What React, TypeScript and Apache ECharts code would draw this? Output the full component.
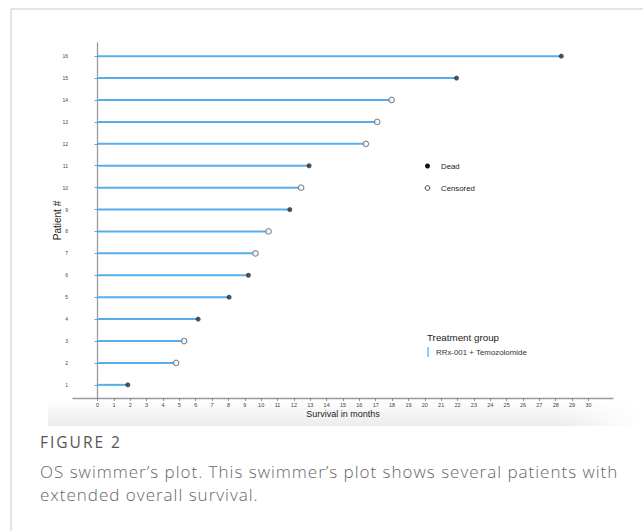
import React, { useEffect, useRef } from "react";
import * as echarts from "echarts";

const patients = [1, 2, 3, 4, 5, 6, 7, 8, 9, 10, 11, 12, 13, 14, 15, 16];
const survivalMonths = [1.85, 4.8, 5.29, 6.15, 8.04, 9.22, 9.65, 10.45, 11.75, 12.44, 12.93, 16.4, 17.09, 17.97, 21.94, 28.34];
const status = ["dead", "censored", "censored", "dead", "dead", "dead", "censored", "censored", "dead", "censored", "dead", "censored", "censored", "censored", "dead", "dead"];
const xTicks = Array.from({ length: 31 }, (_, i) => i);
const yTicks = patients;
const legendLabels = ["Dead", "Censored"];
const groupTitle = "Treatment group";
const groupName = "RRx-001 + Temozolomide";
const figureLabel = "FIGURE 2";
const captionLines = [
  "OS swimmer\u2019s plot. This swimmer\u2019s plot shows several patients with",
  "extended overall survival.",
];

const BLUE = "#55aef0";
const FONT = "'Liberation Sans', Arial, sans-serif";

export default function App() {
  const ref = useRef<HTMLDivElement>(null);
  useEffect(() => {
    if (!ref.current) return;
    const chart = echarts.init(ref.current, null, { renderer: "svg" });
    const swimData = patients.map((p, i) => [survivalMonths[i], p]);
    const deadData = patients
      .map((p, i) => (status[i] === "dead" ? [survivalMonths[i], p] : null))
      .filter((d) => d !== null);
    const censData = patients
      .map((p, i) => (status[i] === "censored" ? [survivalMonths[i], p] : null))
      .filter((d) => d !== null);

    chart.setOption({
      animation: false,
      grid: { left: 73, right: 30, top: 43, bottom: 133 },
      xAxis: {
        type: "value",
        min: -1.5,
        max: 31.5,
        name: "Survival in months",
        nameLocation: "middle",
        nameGap: 11,
        nameMoveOverlap: false,
        nameTextStyle: { fontFamily: FONT, fontSize: 9, color: "#222" },
        axisLine: { show: true, lineStyle: { color: "#9a9a9a", width: 1.3 } },
        axisTick: {
          show: true,
          customValues: xTicks,
          length: 3,
          lineStyle: { color: "#777", width: 0.8 },
        },
        axisLabel: {
          customValues: xTicks,
          fontFamily: FONT,
          fontSize: 5.5,
          color: "#444",
          margin: 4,
        },
        splitLine: { show: false },
      },
      yAxis: {
        type: "value",
        min: 0.4,
        max: 16.6,
        name: "Patient #",
        nameLocation: "middle",
        nameGap: 11,
        nameMoveOverlap: false,
        nameRotate: 90,
        nameTextStyle: { fontFamily: FONT, fontSize: 10, color: "#222" },
        axisLine: { show: true, lineStyle: { color: "#9a9a9a", width: 1.3 } },
        axisTick: {
          show: true,
          customValues: yTicks,
          length: 3,
          lineStyle: { color: "#777", width: 0.8 },
        },
        axisLabel: {
          customValues: yTicks,
          fontFamily: FONT,
          fontSize: 5,
          color: "#444",
          margin: 5,
        },
        splitLine: { show: false },
      },
      series: [
        {
          type: "custom",
          data: swimData,
          renderItem: (params: any, api: any) => {
            const x = api.value(0);
            const y = api.value(1);
            const s = api.coord([0, y]);
            const e = api.coord([x, y]);
            return {
              type: "line",
              shape: { x1: s[0], y1: s[1], x2: e[0], y2: e[1] },
              style: { stroke: BLUE, lineWidth: 2 },
            };
          },
          z: 2,
        },
        {
          type: "scatter",
          data: deadData,
          symbol: "circle",
          symbolSize: 5,
          itemStyle: { color: "#2b2b2b" },
          z: 3,
        },
        {
          type: "scatter",
          data: censData,
          symbol: "circle",
          symbolSize: 5.5,
          itemStyle: { color: "#ffffff", borderColor: "#707070", borderWidth: 1.2 },
          z: 3,
        },
      ],
      graphic: [
        // page frame
        { type: "line", shape: { x1: 11, y1: 9, x2: 643, y2: 9 }, style: { stroke: "#c9c9c9", lineWidth: 1 }, silent: true },
        { type: "line", shape: { x1: 11, y1: 9, x2: 11, y2: 531 }, style: { stroke: "#c9c9c9", lineWidth: 1 }, silent: true },
        // shadow band under the figure
        {
          type: "rect",
          shape: { x: 48, y: 399, width: 590, height: 27 },
          style: {
            fill: new echarts.graphic.LinearGradient(0, 0, 0, 1, [
              { offset: 0, color: "rgba(236,236,236,0)" },
              { offset: 1, color: "rgba(236,236,236,1)" },
            ]),
          },
          z: -10,
          silent: true,
        },
        {
          type: "rect",
          shape: { x: 560, y: 399, width: 80, height: 27 },
          style: {
            fill: new echarts.graphic.LinearGradient(0, 0, 1, 0, [
              { offset: 0, color: "rgba(255,255,255,0)" },
              { offset: 1, color: "rgba(255,255,255,1)" },
            ]),
          },
          z: -9,
          silent: true,
        },
        // legend: status
        { type: "circle", shape: { cx: 427.5, cy: 166, r: 2.5 }, style: { fill: "#111" } },
        { type: "text", x: 441, y: 166, style: { text: legendLabels[0], fontFamily: FONT, fontSize: 7.8, fill: "#222", verticalAlign: "middle" } },
        { type: "circle", shape: { cx: 427.5, cy: 188, r: 2.3 }, style: { fill: "#fff", stroke: "#333", lineWidth: 1 } },
        { type: "text", x: 441, y: 188, style: { text: legendLabels[1], fontFamily: FONT, fontSize: 7.8, fill: "#222", verticalAlign: "middle" } },
        // legend: treatment group
        { type: "text", x: 427, y: 337, style: { text: groupTitle, fontFamily: FONT, fontSize: 9.8, fill: "#222", verticalAlign: "middle" } },
        { type: "rect", shape: { x: 427.5, y: 347, width: 1.2, height: 10 }, style: { fill: BLUE } },
        { type: "text", x: 436, y: 352.5, style: { text: groupName, fontFamily: FONT, fontSize: 7.9, fill: "#333", verticalAlign: "middle" } },
      ],
    });
    return () => chart.dispose();
  }, []);
  return (
    <div style={{ position: "fixed", left: 0, top: 0, width: 643, height: 531, background: "#fff", overflow: "hidden" }}>
      <div ref={ref} style={{ position: "absolute", left: 0, top: 0, width: 643, height: 531 }} />
      <div
        style={{
          position: "absolute",
          left: 40,
          top: 432,
          fontFamily: "'Open Sans', sans-serif",
          fontSize: 15.5,
          fontWeight: 500,
          letterSpacing: 2.0,
          color: "#555",
          lineHeight: "20px",
          whiteSpace: "nowrap",
        }}
      >
        {figureLabel}
      </div>
      <div
        style={{
          position: "absolute",
          left: 40,
          top: 460,
          fontFamily: "'Open Sans', sans-serif",
          fontSize: 17,
          fontWeight: 300,
          letterSpacing: 1.0,
          color: "#666",
          lineHeight: "23px",
          whiteSpace: "nowrap",
        }}
      >
        <div>{captionLines[0]}</div>
        <div>{captionLines[1]}</div>
      </div>
    </div>
  );
}
